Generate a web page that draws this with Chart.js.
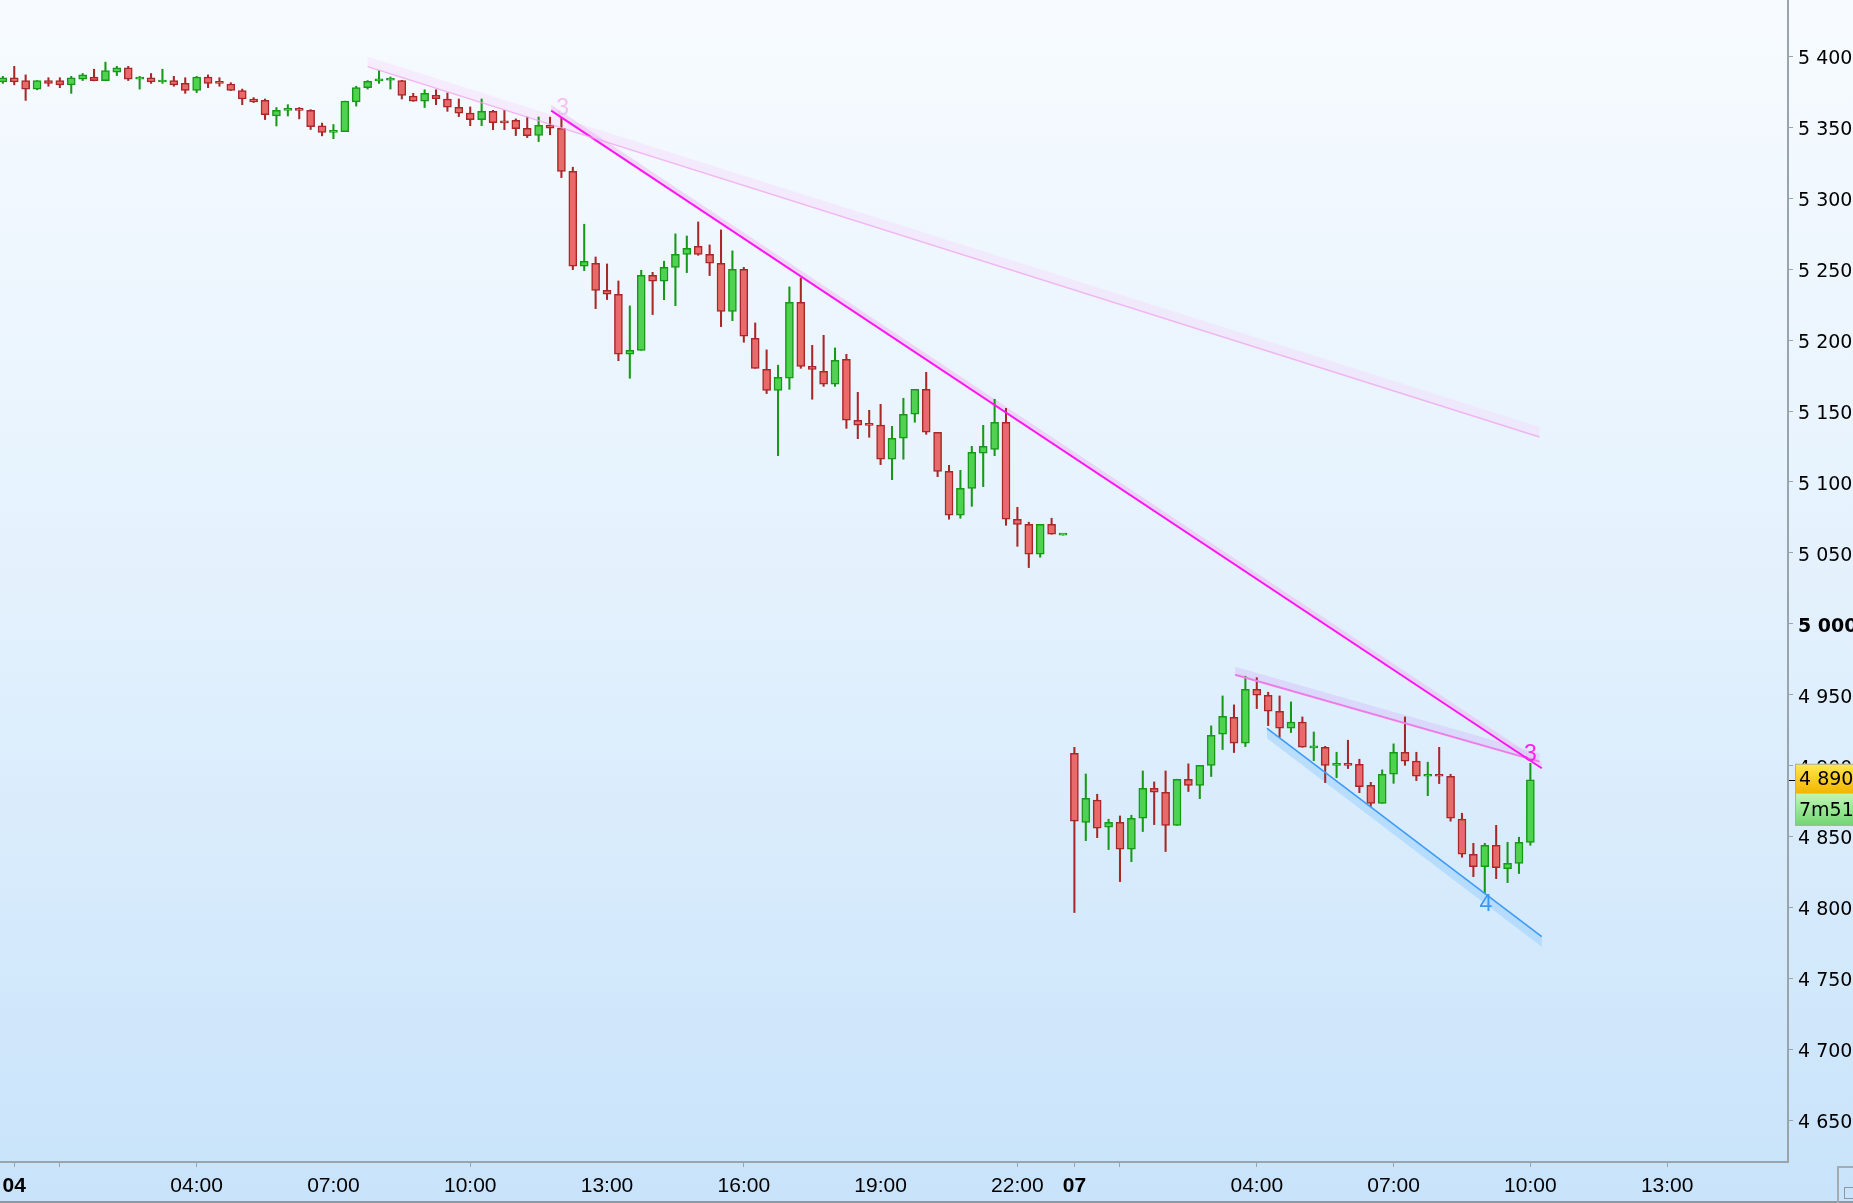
<!DOCTYPE html>
<html lang="es">
<head>
<meta charset="utf-8">
<title>Velas 15 min</title>
<script src="https://cdn.jsdelivr.net/npm/chart.js@4.4.1/dist/chart.umd.min.js"></script>
<style>
  html, body { margin: 0; padding: 0; overflow: hidden; background: #d8ebfc; }
  #contenedor { position: relative; width: 1853px; height: 1203px; }
</style>
</head>
<body>
<div id="contenedor"><canvas id="grafica"></canvas></div>
<script>
// Velas de 15 minutos (la primera cae en la posición -1, día 04 00:00 = 0)
const primeraVela = -1;

const aperturas = [
    5382, 5385, 5383, 5377, 5383, 5383, 5380, 5384, 5385.5, 5383, 5389, 5392, 5384, 5385, 5382, 5383,
    5381, 5376, 5385.5, 5381.5, 5380.5, 5376, 5370, 5369, 5358, 5362, 5362.5, 5362, 5351, 5346.5, 5347, 5368,
    5378, 5382.8, 5383.3, 5383, 5372, 5368.5, 5372.5, 5370, 5364.2, 5360, 5355.5, 5361.3, 5353.5, 5355, 5349.4, 5344.4,
    5351.6, 5349.4, 5319, 5252.1, 5254.2, 5235.1, 5232.3, 5190, 5192.8, 5245.7, 5241.5, 5251.3, 5260.5, 5266.1, 5260.5, 5254.2,
    5220.3, 5249.9, 5201.3, 5179.4, 5164.6, 5173.1, 5226.7, 5181.5, 5178, 5168.9, 5186.5, 5143.5, 5140.2, 5140, 5116, 5130.8,
    5147.7, 5165.3, 5135, 5107.5, 5076.5, 5095.5, 5120.2, 5123, 5142.1, 5073.7, 5070.1, 5049, 5070.1, 5062.5,
    4908.7, 4860, 4875.6, 4856.5, 4860, 4841, 4862.9, 4884, 4881.2, 4857.9, 4890.4, 4886.1, 4900.2, 4922.1, 4934.1, 4915.8,
    4953.8, 4949.6, 4938.3, 4926.3, 4930.6, 4912.5, 4912.9, 4900.2, 4900.6, 4900.9, 4886.1, 4873.4, 4893.9, 4909.4, 4903.1, 4892.5,
    4893.9, 4892.5, 4862.2, 4837.5, 4828.8, 4843.8, 4827.4, 4831.1, 4845.9
];
const maximos = [
    5386, 5393, 5387, 5383, 5385, 5385, 5386, 5388, 5391, 5396, 5393, 5393, 5386, 5388, 5391, 5386,
    5385, 5386, 5387, 5385, 5381.5, 5377, 5371, 5370, 5364, 5366, 5364, 5362.5, 5353, 5352, 5368.5, 5379,
    5383, 5390, 5385.5, 5383.2, 5374, 5376.5, 5376.5, 5374.3, 5370, 5364.4, 5370, 5362, 5362, 5356, 5357.3, 5357.3,
    5357.2, 5356.4, 5321.9, 5281.7, 5258.6, 5253.7, 5241.7, 5224.1, 5249.2, 5247.8, 5255.6, 5274.9, 5273.4, 5283.3, 5267.1, 5277.7,
    5262.9, 5251.3, 5212.1, 5193.1, 5182.3, 5237.5, 5243.8, 5196.3, 5203.4, 5194.5, 5190, 5163.2, 5150.5, 5154.7, 5139.2, 5159,
    5165.3, 5177.3, 5135, 5111.7, 5108.2, 5125.1, 5139.9, 5158.3, 5151.9, 5082.1, 5071.6, 5070.1, 5074.4, 5062.7,
    4912.9, 4894.1, 4879.8, 4862.2, 4864.5, 4865, 4896.2, 4888.5, 4896.2, 4890.4, 4901.2, 4900.2, 4928, 4949.1, 4942.8, 4963,
    4962, 4951.7, 4949.1, 4944.9, 4934.3, 4923.7, 4913.6, 4909.4, 4917.9, 4904.5, 4888.2, 4897, 4915.3, 4934.3, 4909.4, 4902.4,
    4912.9, 4893.9, 4866.4, 4845.2, 4845.2, 4857.9, 4845.9, 4849.5, 4901.6
];
const minimos = [
    5381, 5380, 5369, 5376.5, 5379, 5378, 5374, 5383, 5382.8, 5383, 5386.5, 5383, 5377, 5381, 5381, 5379,
    5374, 5374.5, 5378, 5379, 5376, 5366, 5367.5, 5355.5, 5351, 5358, 5356, 5348.5, 5344, 5342, 5347, 5365,
    5377, 5381, 5377, 5370, 5368.4, 5364, 5366, 5361.3, 5357.6, 5351.2, 5351.2, 5348.4, 5348.4, 5344.2, 5342.8, 5340,
    5344.8, 5314.6, 5249.7, 5249, 5222.2, 5228.6, 5185.5, 5173.1, 5192.8, 5218, 5228.5, 5224.3, 5247.6, 5259.8, 5245.5, 5209.5,
    5213.7, 5198.5, 5180.1, 5162.3, 5118.5, 5165.3, 5180.1, 5158.3, 5167.4, 5167.4, 5137.8, 5130.5, 5131.5, 5112.2, 5101.6, 5116,
    5142.1, 5133.6, 5103.7, 5073.7, 5074.4, 5082.8, 5096.7, 5118.5, 5069.4, 5054.6, 5039.6, 5046.9, 5063.1, 5062.5,
    4796.4, 4847.1, 4849.2, 4840.8, 4818.2, 4832.3, 4853.5, 4858.4, 4839.4, 4857.9, 4881.7, 4876.7, 4892.3, 4911.3, 4909.2, 4913.4,
    4940.2, 4928.2, 4920, 4923.3, 4912.9, 4903.5, 4888, 4891.5, 4897.9, 4880.9, 4871.3, 4873.4, 4887.5, 4900.2, 4889.4, 4878.8,
    4887.3, 4860.8, 4835.4, 4821.7, 4810, 4820.3, 4817.5, 4823.9, 4843.8
];
const cierres = [
    5385, 5382, 5377, 5383, 5381, 5380, 5385, 5387, 5383, 5390, 5392, 5384, 5385, 5382, 5383, 5380,
    5376, 5385.5, 5381, 5381, 5376, 5370, 5368, 5359, 5362, 5362.5, 5362, 5350.5, 5346.5, 5347, 5368.5, 5378,
    5382.5, 5383.2, 5383.7, 5372.5, 5368.5, 5374, 5370.3, 5364.2, 5360, 5355.5, 5361.3, 5353.3, 5353.2, 5349.1, 5344.2, 5351.5,
    5349.4, 5319, 5252.1, 5255.6, 5235.1, 5232.3, 5190, 5192.8, 5245.7, 5241.5, 5251.3, 5260.5, 5264.7, 5260.5, 5254.2, 5220.3,
    5249.9, 5202.7, 5180.1, 5164.6, 5173.8, 5226.7, 5181.5, 5179.4, 5168.9, 5185.8, 5143.5, 5140, 5139.9, 5116, 5130.8, 5147.7,
    5165.3, 5135, 5107.5, 5076.5, 5095.5, 5120.9, 5125.1, 5142.1, 5073.7, 5070.1, 5049, 5070.1, 5063.1, 5062.7,
    4860.8, 4877, 4855.8, 4860, 4841, 4862.9, 4884, 4881.2, 4857.9, 4890.4, 4886.1, 4900.2, 4921.4, 4934.8, 4915.8, 4953.8,
    4949.6, 4938.3, 4926.3, 4930.6, 4912.9, 4912.9, 4900.2, 4900.6, 4900.2, 4885.2, 4873.4, 4893.9, 4909.4, 4903.1, 4892.5, 4893.9,
    4892.5, 4862.9, 4837.5, 4828.8, 4843.8, 4828.1, 4831.1, 4845.9, 4890
];

// Ejes
const rangoX = [-1.25, 155.6];
const rangoY = [4620.5, 5439.8];
const posicionesX = [0, 4, 16, 28, 40, 52, 64, 76, 88, 93, 97, 109, 121, 133, 145];
const etiquetasX = ['04', '', '04:00', '07:00', '10:00', '13:00', '16:00', '19:00', '22:00', '07', '', '04:00', '07:00', '10:00', '13:00'];
const marcasX = [0, 4, 16, 40, 64, 88, 93, 97, 109, 121, 133, 145];
const etiquetasY = [4650, 4700, 4750, 4800, 4850, 4900, 4950, 5000, 5050, 5100, 5150, 5200, 5250, 5300, 5350, 5400];

// Líneas de tendencia [posición, precio] de inicio y fin
const tendenciaLarga = [[31.0, 5392.8], [133.8, 5131.7]];
const tendenciaFuerte = [[47.1, 5361.8], [134.0, 4898.1]];
const tendenciaCorta = [[107.1, 4964.0], [133.8, 4902.8]];
const tendenciaAzul = [[109.9, 4926.3], [134.0, 4779.4]];

// Rótulos de los toques
const rotulosTexto = ['3', '3', '4'];
const rotulosX = [48.1, 133.0, 129.1];
const rotulosY = [5363, 4907.5, 4801.8];

const cuentaAtras = '7m51';

// Función para poner el separador de miles con espacio
function formatoPrecio(valor) {
    return String(valor).replace(/\B(?=(\d{3})+(?!\d))/g, ' ');
}

const subeVela = cierres.map((c, i) => c >= aperturas[i]);
const rellenos = subeVela.map(s => s ? '#4fd24f' : '#e86a6a');
const bordes = subeVela.map(s => s ? '#189818' : '#a82828');

const cuerpos = aperturas.map((o, i) => ({ x: primeraVela + i, y: [o, cierres[i]] }));
const mechas = maximos.map((h, i) => ({ x: primeraVela + i, y: [minimos[i], h] }));

const aPuntos = linea => linea.map(p => ({ x: p[0], y: p[1] }));

// Fondo degradado de toda la imagen
const fondo = {
    id: 'fondo',
    beforeDraw(chart) {
        const c = chart.ctx;
        const g = c.createLinearGradient(0, 0, 0, chart.height);
        g.addColorStop(0, '#f7fbff');
        g.addColorStop(0.5, '#e3f1fd');
        g.addColorStop(1, '#c8e3fa');
        c.save();
        c.fillStyle = g;
        c.fillRect(0, 0, chart.width, chart.height);
        c.restore();
    }
};

// Bandas sombreadas junto a las líneas de tendencia
const bandas = {
    id: 'bandas',
    beforeDatasetsDraw(chart) {
        const c = chart.ctx;
        const sx = chart.scales.x, sy = chart.scales.y;
        c.save();
        c.beginPath();
        c.rect(chart.chartArea.left, chart.chartArea.top, chart.chartArea.width, chart.chartArea.height);
        c.clip();
        chart.data.datasets.forEach(ds => {
            if (!ds.banda) return;
            const a = ds.data[0], b = ds.data[1];
            const x1 = sx.getPixelForValue(a.x), y1 = sy.getPixelForValue(a.y);
            const x2 = sx.getPixelForValue(b.x), y2 = sy.getPixelForValue(b.y);
            c.fillStyle = ds.colorBanda;
            c.beginPath();
            c.moveTo(x1, y1);
            c.lineTo(x2, y2);
            c.lineTo(x2, y2 + ds.banda);
            c.lineTo(x1, y1 + ds.banda);
            c.closePath();
            c.fill();
        });
        c.restore();
    }
};

// Números de toques, caja de precio y detalles de la esquina
const extras = {
    id: 'extras',
    afterDraw(chart) {
        const c = chart.ctx;
        const sx = chart.scales.x, sy = chart.scales.y;
        const coloresRotulos = ['#f6bff2', '#ff1ef0', '#3a98f5'];
        c.save();
        c.font = '23px "Liberation Sans", Arial, sans-serif';
        c.textAlign = 'center';
        c.textBaseline = 'middle';
        rotulosTexto.forEach((t, i) => {
            c.fillStyle = coloresRotulos[i];
            c.fillText(t, sx.getPixelForValue(rotulosX[i]), sy.getPixelForValue(rotulosY[i]));
        });

        // Caja del último precio
        const ultimo = cierres[cierres.length - 1];
        const yp = sy.getPixelForValue(ultimo);
        const izq = chart.chartArea.right + 7;
        const g1 = c.createLinearGradient(0, yp - 16, 0, yp + 14);
        g1.addColorStop(0, '#ffe84d');
        g1.addColorStop(1, '#f2b400');
        c.fillStyle = g1;
        c.fillRect(izq, yp - 16, chart.width - izq, 30);
        const g2 = c.createLinearGradient(0, yp + 14, 0, yp + 46);
        g2.addColorStop(0, '#bff8b4');
        g2.addColorStop(1, '#72d472');
        c.fillStyle = g2;
        c.fillRect(izq, yp + 14, chart.width - izq, 32);
        c.strokeStyle = '#a8b2a0';
        c.lineWidth = 1;
        c.strokeRect(izq + 0.5, yp - 15.5, chart.width - izq, 61);
        c.fillStyle = '#000';
        c.fillRect(chart.chartArea.right + 1, Math.round(yp), 6, 1);
        c.font = '19px "DejaVu Sans", sans-serif';
        c.textAlign = 'left';
        c.fillText(formatoPrecio(ultimo), izq + 4, yp);
        c.fillText(cuentaAtras, izq + 4, yp + 31);

        // Borde inferior y esquina
        c.fillStyle = '#8e989f';
        c.fillRect(0, chart.height - 2, chart.width, 2);
        c.fillStyle = '#a3acb3';
        c.fillRect(1837, chart.chartArea.bottom + 4, 2, chart.height - chart.chartArea.bottom - 4);
        c.fillRect(1837, chart.chartArea.bottom + 4, chart.width - 1837, 2);
        c.strokeStyle = '#8e989f';
        c.strokeRect(1844.5, 1187.5, 12, 11);
        c.restore();
    }
};

const ctx = document.getElementById('grafica').getContext('2d');
const chart = new Chart(ctx, {
    data: {
        datasets: [
            {
                type: 'bar',
                label: 'Mechas',
                data: mechas,
                backgroundColor: bordes,
                barThickness: 1.4,
                grouped: false,
                order: 3
            },
            {
                type: 'bar',
                label: 'Cuerpos',
                data: cuerpos,
                backgroundColor: rellenos,
                borderColor: bordes,
                borderWidth: 1.5,
                borderSkipped: false,
                barThickness: 8,
                minBarLength: 2,
                grouped: false,
                order: 2
            },
            {
                type: 'line',
                label: 'Tendencia larga',
                data: aPuntos(tendenciaLarga),
                borderColor: 'rgba(243, 160, 238, 0.75)',
                borderWidth: 1.5,
                pointRadius: 0,
                banda: -10,
                colorBanda: 'rgba(246, 210, 250, 0.35)',
                order: 1
            },
            {
                type: 'line',
                label: 'Tendencia fuerte',
                data: aPuntos(tendenciaFuerte),
                borderColor: '#ff14f5',
                borderWidth: 2,
                pointRadius: 0,
                banda: -6,
                colorBanda: 'rgba(238, 175, 240, 0.45)',
                order: 1
            },
            {
                type: 'line',
                label: 'Tendencia corta',
                data: aPuntos(tendenciaCorta),
                borderColor: '#ee7be8',
                borderWidth: 2,
                pointRadius: 0,
                banda: -8,
                colorBanda: 'rgba(214, 196, 250, 0.5)',
                order: 1
            },
            {
                type: 'line',
                label: 'Tendencia azul',
                data: aPuntos(tendenciaAzul),
                borderColor: '#3d9bf7',
                borderWidth: 1.6,
                pointRadius: 0,
                banda: 10,
                colorBanda: 'rgba(150, 205, 255, 0.5)',
                order: 1
            }
        ]
    },
    options: {
        responsive: true,
        maintainAspectRatio: false,
        animation: false,
        layout: { padding: 0 },
        plugins: {
            legend: { display: false },
            tooltip: { enabled: false }
        },
        scales: {
            x: {
                type: 'linear',
                position: 'bottom',
                offset: false,
                min: rangoX[0],
                max: rangoX[1],
                afterBuildTicks: (eje) => { eje.ticks = posicionesX.map(v => ({ value: v })); },
                afterFit: (eje) => { eje.height = 41; eje.paddingLeft = 0; eje.paddingRight = 0; },
                ticks: {
                    autoSkip: false,
                    maxRotation: 0,
                    padding: 7,
                    color: '#000',
                    callback: (valor, i) => etiquetasX[i],
                    font: (c) => ({
                        family: '"Liberation Sans", Arial, sans-serif',
                        size: 21,
                        weight: (etiquetasX[c.index] === '04' || etiquetasX[c.index] === '07') ? 'bold' : 'normal'
                    })
                },
                grid: {
                    offset: false,
                    drawOnChartArea: false,
                    drawTicks: true,
                    tickLength: 5,
                    tickWidth: 1,
                    tickColor: (c) => (c.tick && marcasX.includes(c.tick.value)) ? '#9aa4ac' : 'rgba(0,0,0,0)'
                },
                border: { display: true, color: '#9aa4ac', width: 2 }
            },
            y: {
                type: 'linear',
                position: 'right',
                min: rangoY[0],
                max: rangoY[1],
                afterBuildTicks: (eje) => { eje.ticks = etiquetasY.map(v => ({ value: v })); },
                afterFit: (eje) => { eje.width = 65; eje.paddingTop = 0; eje.paddingBottom = 0; },
                ticks: {
                    padding: 5,
                    labelOffset: 3,
                    color: '#000',
                    callback: (valor) => formatoPrecio(valor),
                    font: (c) => ({
                        family: '"DejaVu Sans", sans-serif',
                        size: 19,
                        weight: (c.tick && c.tick.value === 5000) ? 'bold' : 'normal'
                    })
                },
                grid: {
                    drawOnChartArea: false,
                    drawTicks: true,
                    tickLength: 5,
                    tickWidth: 1,
                    tickColor: '#9aa4ac'
                },
                border: { display: true, color: '#9aa4ac', width: 2 }
            }
        }
    },
    plugins: [fondo, bandas, extras]
});
</script>
</body>
</html>
